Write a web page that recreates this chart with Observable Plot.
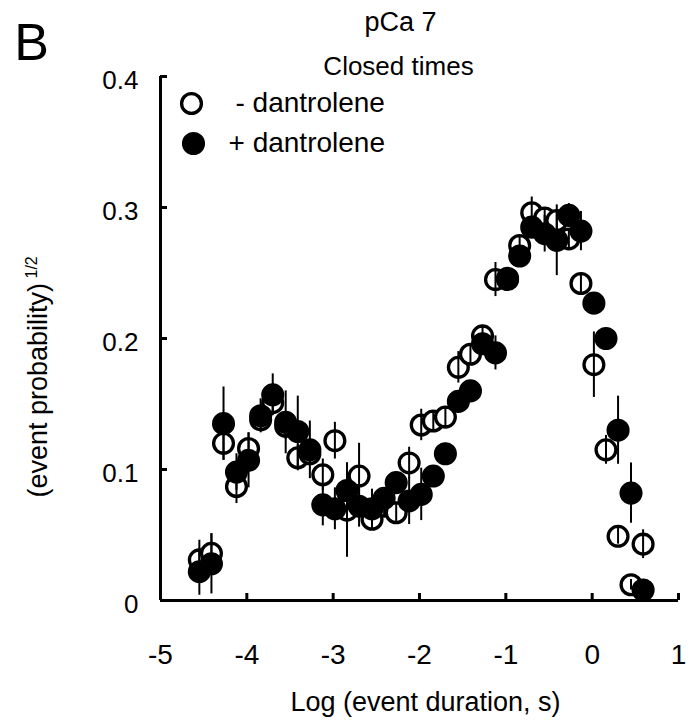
<!DOCTYPE html>
<html><head><meta charset="utf-8">
<script src="https://cdn.jsdelivr.net/npm/d3@7"></script>
<script src="https://cdn.jsdelivr.net/npm/@observablehq/plot@0.6"></script>
<style>body{margin:0;background:#fff}</style>
</head><body><div id="chart"></div>
<script>
const logDuration = [-4.55,-4.41,-4.27,-4.12,-3.98,-3.84,-3.70,-3.55,-3.41,-3.27,-3.12,-2.98,-2.84,-2.70,-2.55,-2.41,-2.27,-2.12,-1.98,-1.84,-1.70,-1.55,-1.41,-1.27,-1.12,-0.98,-0.84,-0.70,-0.55,-0.41,-0.27,-0.13,0.02,0.16,0.30,0.45,0.59];
const probMinus = [0.031,0.036,0.120,0.087,0.116,0.138,0.151,0.133,0.109,0.112,0.096,0.122,0.069,0.095,0.062,0.072,0.067,0.105,0.134,0.137,0.140,0.178,0.188,0.202,0.245,0.246,0.271,0.296,0.292,0.290,0.276,0.242,0.180,0.115,0.049,0.012,0.043];
const errMinus = [0.015,0.015,0.013,0.013,0.012,0.008,0.008,0.010,0.010,0.008,0.012,0.014,0.036,0.025,0.008,0.008,0.008,0.012,0.012,0.008,0.008,0.012,0.008,0.008,0.013,0.008,0.008,0.012,0.008,0.008,0.008,0.008,0.025,0.011,0.006,0.004,0.011];
const probPlus = [0.022,0.028,0.135,0.098,0.107,0.141,0.157,0.136,0.129,0.115,0.073,0.070,0.084,0.072,0.070,0.078,0.090,0.076,0.081,0.095,0.112,0.152,0.160,0.196,0.189,0.245,0.263,0.285,0.280,0.275,0.294,0.282,0.227,0.200,0.130,0.082,0.008];
const errPlus = [0.018,0.023,0.028,0.014,0.021,0.013,0.016,0.024,0.027,0.022,0.016,0.016,0.021,0.016,0.015,0.008,0.008,0.018,0.020,0.008,0.008,0.008,0.008,0.008,0.013,0.008,0.008,0.008,0.014,0.027,0.009,0.015,0.008,0.008,0.026,0.023,0.006];
const xTicks = [-5,-4,-3,-2,-1,0,1];
const xTickLabels = ["-5","-4","-3","-2","-1","0","1"];
const yTicks = [0,0.1,0.2,0.3,0.4];
const yTickLabels = ["0","0.1","0.2","0.3","0.4"];
const seriesNames = ["- dantrolene","+ dantrolene"];
const panelLetter = "B";
const titleLines = ["pCa 7","Closed times"];
const xLabel = "Log (event duration, s)";
const yLabel = "(event probability)";
const yLabelSup = "1/2";

const minusRows = logDuration.map((x,i)=>({x, y: probMinus[i], e: errMinus[i]}));
const plusRows = logDuration.map((x,i)=>({x, y: probPlus[i], e: errPlus[i]}));
const font = "'Liberation Sans', Arial, sans-serif";
const R = 9.9, SW = 3.3, FS = 28;

const chart = Plot.plot({
  width: 698, height: 722,
  marginLeft: 160, marginRight: 20, marginTop: 76, marginBottom: 122,
  x: {domain: [-5, 1]},
  y: {domain: [0, 0.4]},
  style: {fontFamily: font, fontSize: FS + "px", color: "black", background: "white", overflow: "visible"},
  marks: [
    Plot.dot(minusRows, {x: "x", y: "y", r: R, fill: "white", stroke: "black", strokeWidth: SW}),
    Plot.ruleX(minusRows, {x: "x", y1: d => d.y - d.e, y2: d => d.y + d.e, stroke: "black", strokeWidth: 2}),
    Plot.ruleX(plusRows, {x: "x", y1: d => d.y - d.e, y2: d => d.y + d.e, stroke: "black", strokeWidth: 2}),
    Plot.dot(plusRows, {x: "x", y: "y", r: R, fill: "black", stroke: "black", strokeWidth: SW}),
    Plot.ruleY([0], {stroke: "black", strokeWidth: 3}),
    Plot.ruleX([-5], {stroke: "black", strokeWidth: 3}),
    // inward tick marks
    Plot.axisX(xTicks, {tickSize: -7, strokeWidth: 3, label: null, tickFormat: () => ""}),
    Plot.axisY(yTicks, {tickSize: -7, strokeWidth: 3, label: null, tickFormat: () => ""}),
    // tick labels
    Plot.axisX(xTicks, {tickSize: 0, tickPadding: 44, fontSize: 28, label: null,
      tickFormat: d => xTickLabels[xTicks.indexOf(d)]}),
    Plot.axisY(yTicks, {tickSize: 0, tickPadding: 22, fontSize: 26, label: null, dy: 4,
      tickFormat: d => yTickLabels[yTicks.indexOf(d)]}),
    Plot.text([panelLetter], {frameAnchor: "top-left", lineAnchor: "middle", dx: -129, dy: -33, fontSize: 52, textAnchor: "middle"}),
    Plot.text([titleLines[0]], {frameAnchor: "top", lineAnchor: "middle", dx: -19, dy: -54, fontSize: 27}),
    Plot.text([titleLines[1]], {frameAnchor: "top", lineAnchor: "middle", dx: -21, dy: -10, fontSize: 26}),
    Plot.dot([seriesNames[0]], {frameAnchor: "top-left", dx: 31, dy: 27, r: R, fill: "white", stroke: "black", strokeWidth: SW}),
    Plot.dot([seriesNames[1]], {frameAnchor: "top-left", dx: 33, dy: 67, r: R, fill: "black", stroke: "black", strokeWidth: SW}),
    Plot.text([seriesNames[0]], {frameAnchor: "top-left", lineAnchor: "middle", dx: 75, dy: 27, fontSize: FS, textAnchor: "start"}),
    Plot.text([seriesNames[1]], {frameAnchor: "top-left", lineAnchor: "middle", dx: 68, dy: 67, fontSize: FS, textAnchor: "start"}),
    Plot.text([xLabel], {frameAnchor: "bottom", lineAnchor: "middle", dx: 6, dy: 102, fontSize: 27}),
    Plot.text([yLabel], {frameAnchor: "left", lineAnchor: "middle", textAnchor: "start", dx: -122, dy: 159, rotate: -90, fontSize: 27}),
    Plot.text([yLabelSup], {frameAnchor: "left", lineAnchor: "middle", textAnchor: "start", dx: -129, dy: -60, rotate: -90, fontSize: 16})
  ]
});
document.getElementById("chart").appendChild(chart);
</script>
</body></html>
